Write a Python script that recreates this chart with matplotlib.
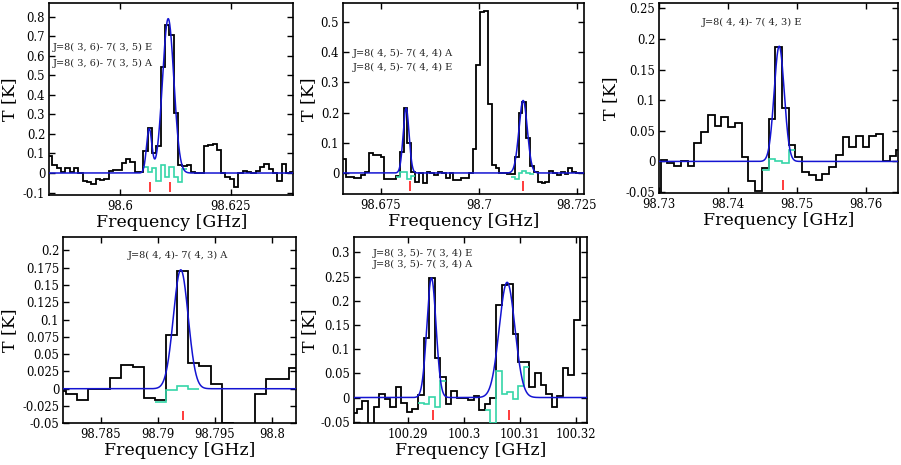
import numpy as np
import matplotlib
matplotlib.use("Agg")
import matplotlib.pyplot as plt

# ------------------------------------------------------------------ data
# Panel 1 : channel edges [GHz] and brightness temperature [K]
p1_edges = [98.58378, 98.58476, 98.58573, 98.58671, 98.58769, 98.58867, 98.58964, 98.59062,
            98.59160, 98.59257, 98.59355, 98.59453, 98.59550, 98.59648, 98.59746, 98.59844,
            98.59941, 98.60039, 98.60137, 98.60234, 98.60332, 98.60430, 98.60527, 98.60625,
            98.60723, 98.60821, 98.60918, 98.61016, 98.61114, 98.61211, 98.61309, 98.61407,
            98.61504, 98.61602, 98.61700, 98.61798, 98.61895, 98.61993, 98.62091, 98.62188,
            98.62286, 98.62384, 98.62481, 98.62579, 98.62677, 98.62775, 98.62872, 98.62970,
            98.63068, 98.63165, 98.63263, 98.63361, 98.63458, 98.63556, 98.63654, 98.63752,
            98.63849, 98.63947]
p1_T = [0.089, 0.041, 0.024, 0.007, 0.027, 0.003, 0.027, 0.002, -0.039, -0.044,
        -0.056, -0.031, -0.036, -0.031, 0.012, 0.014, 0.015, 0.049, 0.072, 0.055,
        0.007, 0.003, 0.114, 0.229, 0.100, 0.140, 0.540, 0.757, 0.706, 0.307,
        0.040, 0.035, 0.040, 0.003, 0.000, 0.000, 0.140, 0.143, 0.148, 0.118,
        -0.002, -0.020, -0.030, -0.070, -0.002, 0.010, 0.003, 0.000, 0.010, 0.030,
        0.045, 0.020, -0.002, -0.040, 0.045, -0.002, 0.003]
p1_fit_amp = [0.225, 0.79]
p1_fit_cen = [98.6066, 98.6109]
p1_fit_sig = [0.0006, 0.00128]
p1_lines = [98.6069, 98.6113]
p1_labels = ["J=8( 3, 6)- 7( 3, 5) E", "J=8( 3, 6)- 7( 3, 5) A"]
p1_xticks = [98.6, 98.625]
p1_xticklabels = ["98.6", "98.625"]
p1_yticks = [-0.1, 0.0, 0.1, 0.2, 0.3, 0.4, 0.5, 0.6, 0.7, 0.8]
p1_yticklabels = ["-0.1", "0", "0.1", "0.2", "0.3", "0.4", "0.5", "0.6", "0.7", "0.8"]

# Panel 2
p2_edges = [98.66521, 98.66619, 98.66716, 98.66814, 98.66912, 98.67010, 98.67107, 98.67205,
            98.67303, 98.67400, 98.67498, 98.67596, 98.67693, 98.67791, 98.67889, 98.67987,
            98.68084, 98.68182, 98.68280, 98.68377, 98.68475, 98.68573, 98.68670, 98.68768,
            98.68866, 98.68964, 98.69061, 98.69159, 98.69257, 98.69354, 98.69452, 98.69550,
            98.69647, 98.69745, 98.69843, 98.69941, 98.70038, 98.70136, 98.70234, 98.70331,
            98.70429, 98.70527, 98.70624, 98.70722, 98.70820, 98.70918, 98.71015, 98.71113,
            98.71211, 98.71308, 98.71406, 98.71504, 98.71601, 98.71699, 98.71797, 98.71895,
            98.71992, 98.72090, 98.72188, 98.72285, 98.72383, 98.72481, 98.72578, 98.72676]
p2_T = [0.045, -0.012, -0.012, -0.015, -0.018, -0.007, 0.004, 0.067, 0.060, 0.060,
        0.054, -0.020, -0.020, -0.020, -0.009, 0.070, 0.214, 0.100, 0.004, -0.029,
        -0.001, -0.032, 0.002, -0.001, -0.007, 0.004, -0.001, -0.018, -0.001, -0.023,
        -0.023, -0.018, -0.018, -0.001, 0.080, 0.358, 0.532, 0.537, 0.230, 0.026,
        0.015, -0.001, -0.001, -0.002, -0.002, 0.054, 0.198, 0.236, 0.115, 0.023,
        0.004, -0.029, -0.032, -0.029, 0.008, -0.001, -0.007, 0.004, -0.003, 0.015,
        0.004, -0.001, -0.001]
p2_fit_amp = [0.215, 0.24]
p2_fit_cen = [98.6815, 98.7113]
p2_fit_sig = [0.00075, 0.00107]
p2_lines = [98.68245, 98.71130]
p2_labels = ["J=8( 4, 5)- 7( 4, 4) A", "J=8( 4, 5)- 7( 4, 4) E"]
p2_xticks = [98.675, 98.7, 98.725]
p2_xticklabels = ["98.675", "98.7", "98.725"]
p2_yticks = [0.0, 0.1, 0.2, 0.3, 0.4, 0.5]
p2_yticklabels = ["0", "0.1", "0.2", "0.3", "0.4", "0.5"]

# Panel 3
p3_edges = [98.72924, 98.73022, 98.73119, 98.73217, 98.73315, 98.73413, 98.73510, 98.73608,
            98.73706, 98.73803, 98.73901, 98.73999, 98.74096, 98.74194, 98.74292, 98.74390,
            98.74487, 98.74585, 98.74683, 98.74780, 98.74878, 98.74976, 98.75073, 98.75171,
            98.75269, 98.75367, 98.75464, 98.75562, 98.75660, 98.75757, 98.75855, 98.75953,
            98.76050, 98.76148, 98.76246, 98.76344, 98.76441, 98.76539]
p3_T = [-0.060, 0.002, -0.003, -0.007, 0.000, -0.007, 0.030, 0.048, 0.076, 0.057,
        0.072, 0.056, 0.063, 0.008, -0.032, -0.048, -0.011, 0.070, 0.187, 0.087,
        0.026, 0.008, -0.017, -0.022, -0.030, -0.020, -0.009, 0.010, 0.040, 0.024,
        0.042, 0.024, 0.041, 0.044, 0.000, 0.009, 0.018]
p3_fit_amp = [0.188]
p3_fit_cen = [98.7474]
p3_fit_sig = [0.00073]
p3_lines = [98.74798]
p3_labels = ["J=8( 4, 4)- 7( 4, 3) E"]
p3_xticks = [98.73, 98.74, 98.75, 98.76]
p3_xticklabels = ["98.73", "98.74", "98.75", "98.76"]
p3_yticks = [-0.05, 0.0, 0.05, 0.1, 0.15, 0.2, 0.25]
p3_yticklabels = ["-0.05", "0", "0.05", "0.1", "0.15", "0.2", "0.25"]

# Panel 4
p4_edges = [98.78093, 98.78191, 98.78288, 98.78386, 98.78484, 98.78582, 98.78679, 98.78777,
            98.78875, 98.78972, 98.79070, 98.79168, 98.79265, 98.79363, 98.79461, 98.79559,
            98.79656, 98.79754, 98.79852, 98.79949, 98.80047, 98.80145, 98.80242]
p4_T = [-0.003, -0.008, -0.017, 0.000, 0.000, 0.015, 0.034, 0.032, -0.013, -0.016,
        0.078, 0.170, 0.037, 0.033, 0.007, -0.049, -0.090, -0.090, -0.007, 0.014,
        0.014, 0.030]
p4_fit_amp = [0.172]
p4_fit_cen = [98.7920]
p4_fit_sig = [0.00065]
p4_lines = [98.79216]
p4_labels = ["J=8( 4, 4)- 7( 4, 3) A"]
p4_xticks = [98.785, 98.79, 98.795, 98.8]
p4_xticklabels = ["98.785", "98.79", "98.795", "98.8"]
p4_yticks = [-0.05, -0.025, 0.0, 0.025, 0.05, 0.075, 0.1, 0.125, 0.15, 0.175, 0.2]
p4_yticklabels = ["-0.05", "-0.025", "0", "0.025", "0.05", "0.075", "0.1",
                  "0.125", "0.15", "0.175", "0.2"]

# Panel 5
p5_edges = [100.27991, 100.28090, 100.28190, 100.28289, 100.28388, 100.28488, 100.28587,
            100.28686, 100.28785, 100.28885, 100.28984, 100.29083, 100.29183, 100.29282,
            100.29381, 100.29480, 100.29580, 100.29679, 100.29778, 100.29878, 100.29977,
            100.30076, 100.30176, 100.30275, 100.30374, 100.30473, 100.30573, 100.30672,
            100.30771, 100.30871, 100.30970, 100.31069, 100.31169, 100.31268, 100.31367,
            100.31467, 100.31566, 100.31665, 100.31764, 100.31864, 100.31963, 100.32062,
            100.32162, 100.32261]
p5_T = [-0.032, -0.023, -0.007, -0.060, -0.020, 0.008, -0.004, -0.020, 0.021, -0.012,
        -0.030, -0.024, 0.006, 0.122, 0.246, 0.082, 0.043, -0.014, 0.014, -0.002,
        -0.002, -0.006, 0.003, -0.026, -0.014, -0.002, 0.191, 0.232, 0.235, 0.131,
        0.073, 0.073, 0.022, 0.051, 0.026, 0.007, -0.019, 0.003, 0.060, 0.046,
        0.160, 0.400, 0.400]
p5_fit_amp = [0.247, 0.238]
p5_fit_cen = [100.29421, 100.3077]
p5_fit_sig = [0.00082, 0.0014]
p5_lines = [100.29452, 100.3081]
p5_labels = ["J=8( 3, 5)- 7( 3, 4) E", "J=8( 3, 5)- 7( 3, 4) A"]
p5_xticks = [100.29, 100.3, 100.31, 100.32]
p5_xticklabels = ["100.29", "100.3", "100.31", "100.32"]
p5_yticks = [-0.05, 0.0, 0.05, 0.1, 0.15, 0.2, 0.25, 0.3]
p5_yticklabels = ["-0.05", "0", "0.05", "0.1", "0.15", "0.2", "0.25", "0.3"]

x_label = "Frequency [GHz]"
y_label = "T [K]"

# ------------------------------------------------------------------ layout (pixels)
W, H = 901, 465
SERIF = ["DejaVu Serif"]
C_DATA, C_FIT, C_RES, C_LINE = "#000000", "#1414d2", "#35d6a8", "#ff1a1a"

panels = [
    dict(edges=p1_edges, T=p1_T, amp=p1_fit_amp, cen=p1_fit_cen, sig=p1_fit_sig,
         lines=p1_lines, labels=p1_labels, xt=p1_xticks, xtl=p1_xticklabels,
         yt=p1_yticks, ytl=p1_yticklabels,
         box=(49.3, 2.7, 293.3, 195.0), xlim=(98.58404, 98.63916), ylim=(-0.1125, 0.8716),
         ylab_x=10, lab_xy=[(53, 47), (53, 63)]),
    dict(edges=p2_edges, T=p2_T, amp=p2_fit_amp, cen=p2_fit_cen, sig=p2_fit_sig,
         lines=p2_lines, labels=p2_labels, xt=p2_xticks, xtl=p2_xticklabels,
         yt=p2_yticks, ytl=p2_yticklabels,
         box=(343.3, 3.3, 584.0, 194.3), xlim=(98.6655, 98.7268), ylim=(-0.0706, 0.5618),
         ylab_x=309, lab_xy=[(353, 53), (353, 67)]),
    dict(edges=p3_edges, T=p3_T, amp=p3_fit_amp, cen=p3_fit_cen, sig=p3_fit_sig,
         lines=p3_lines, labels=p3_labels, xt=p3_xticks, xtl=p3_xticklabels,
         yt=p3_yticks, ytl=p3_yticklabels,
         box=(659.3, 2.7, 897.7, 193.3), xlim=(98.73, 98.7646), ylim=(-0.052, 0.259),
         ylab_x=611, lab_xy=[(702, 22)]),
    dict(edges=p4_edges, T=p4_T, amp=p4_fit_amp, cen=p4_fit_cen, sig=p4_fit_sig,
         lines=p4_lines, labels=p4_labels, xt=p4_xticks, xtl=p4_xticklabels,
         yt=p4_yticks, ytl=p4_yticklabels,
         box=(63.3, 237.3, 296.0, 423.3), xlim=(98.7817, 98.8021), ylim=(-0.05, 0.219),
         ylab_x=10, lab_xy=[(128, 255)]),
    dict(edges=p5_edges, T=p5_T, amp=p5_fit_amp, cen=p5_fit_cen, sig=p5_fit_sig,
         lines=p5_lines, labels=p5_labels, xt=p5_xticks, xtl=p5_xticklabels,
         yt=p5_yticks, ytl=p5_yticklabels,
         box=(354.0, 237.3, 587.3, 422.7), xlim=(100.2804, 100.322), ylim=(-0.052, 0.331),
         ylab_x=310, lab_xy=[(373, 253), (373, 264)]),
]


def model(x, amps, cens, sigs):
    x = np.asarray(x, dtype=float)
    out = np.zeros_like(x)
    for a, c, s in zip(amps, cens, sigs):
        out += a * np.exp(-0.5 * ((x - c) / s) ** 2)
    return out


def runs(mask):
    segs, start = [], None
    for i, m in enumerate(mask):
        if m and start is None:
            start = i
        if not m and start is not None:
            segs.append((start, i))
            start = None
    if start is not None:
        segs.append((start, len(mask)))
    return segs


fig = plt.figure(figsize=(W / 100, H / 100), dpi=100)

for p in panels:
    l, t, r, b = p["box"]
    ax = fig.add_axes([l / W, 1 - b / H, (r - l) / W, (b - t) / H])
    edges = np.array(p["edges"])
    T = np.array(p["T"])

    # observed spectrum
    ax.stairs(T, edges, baseline=None, color=C_DATA, lw=1.3, zorder=2)

    # residual (observed - fit) over the fitted lines
    centers = 0.5 * (edges[:-1] + edges[1:])
    mfit = model(centers, p["amp"], p["cen"], p["sig"])
    mask = mfit > 0.015 * max(p["amp"])
    for i0, i1 in runs(mask):
        ax.stairs(T[i0:i1] - mfit[i0:i1], edges[i0:i1 + 1], baseline=None,
                  color=C_RES, lw=1.2, zorder=3)

    # gaussian fit
    xf = np.linspace(p["xlim"][0], p["xlim"][1], 3000)
    ax.plot(xf, model(xf, p["amp"], p["cen"], p["sig"]), color=C_FIT, lw=1.1, zorder=4)

    # line positions
    ax.vlines(p["lines"], 0.016, 0.068, transform=ax.get_xaxis_transform(),
              color=C_LINE, lw=1.2, zorder=5)

    ax.set_xlim(*p["xlim"])
    ax.set_ylim(*p["ylim"])
    ax.set_xticks(p["xt"])
    ax.set_xticklabels(p["xtl"])
    ax.set_yticks(p["yt"])
    ax.set_yticklabels(p["ytl"])
    ax.tick_params(direction="in", length=4.5, width=1.0, top=True, right=True,
                   labelsize=8.4, pad=3)
    ax.tick_params(axis="x", pad=3.5)
    for lab in ax.get_xticklabels() + ax.get_yticklabels():
        lab.set_family(SERIF)
    for s in ax.spines.values():
        s.set_linewidth(1.2)

    ax.set_xlabel(x_label, family=SERIF, fontsize=12.5, va="center")
    ax.xaxis.set_label_coords(0.5, -27.5 / (b - t))
    ax.set_ylabel(y_label, family=SERIF, fontsize=12.5, va="center")
    ax.yaxis.set_label_coords((p["ylab_x"] - l) / (r - l), 0.5)

    for (tx, ty), s in zip(p["lab_xy"], p["labels"]):
        fig.text(tx / W, 1 - ty / H, s, family=SERIF, fontsize=7, color="#222222",
                 ha="left", va="center")

fig.savefig("out.png", dpi=100)
